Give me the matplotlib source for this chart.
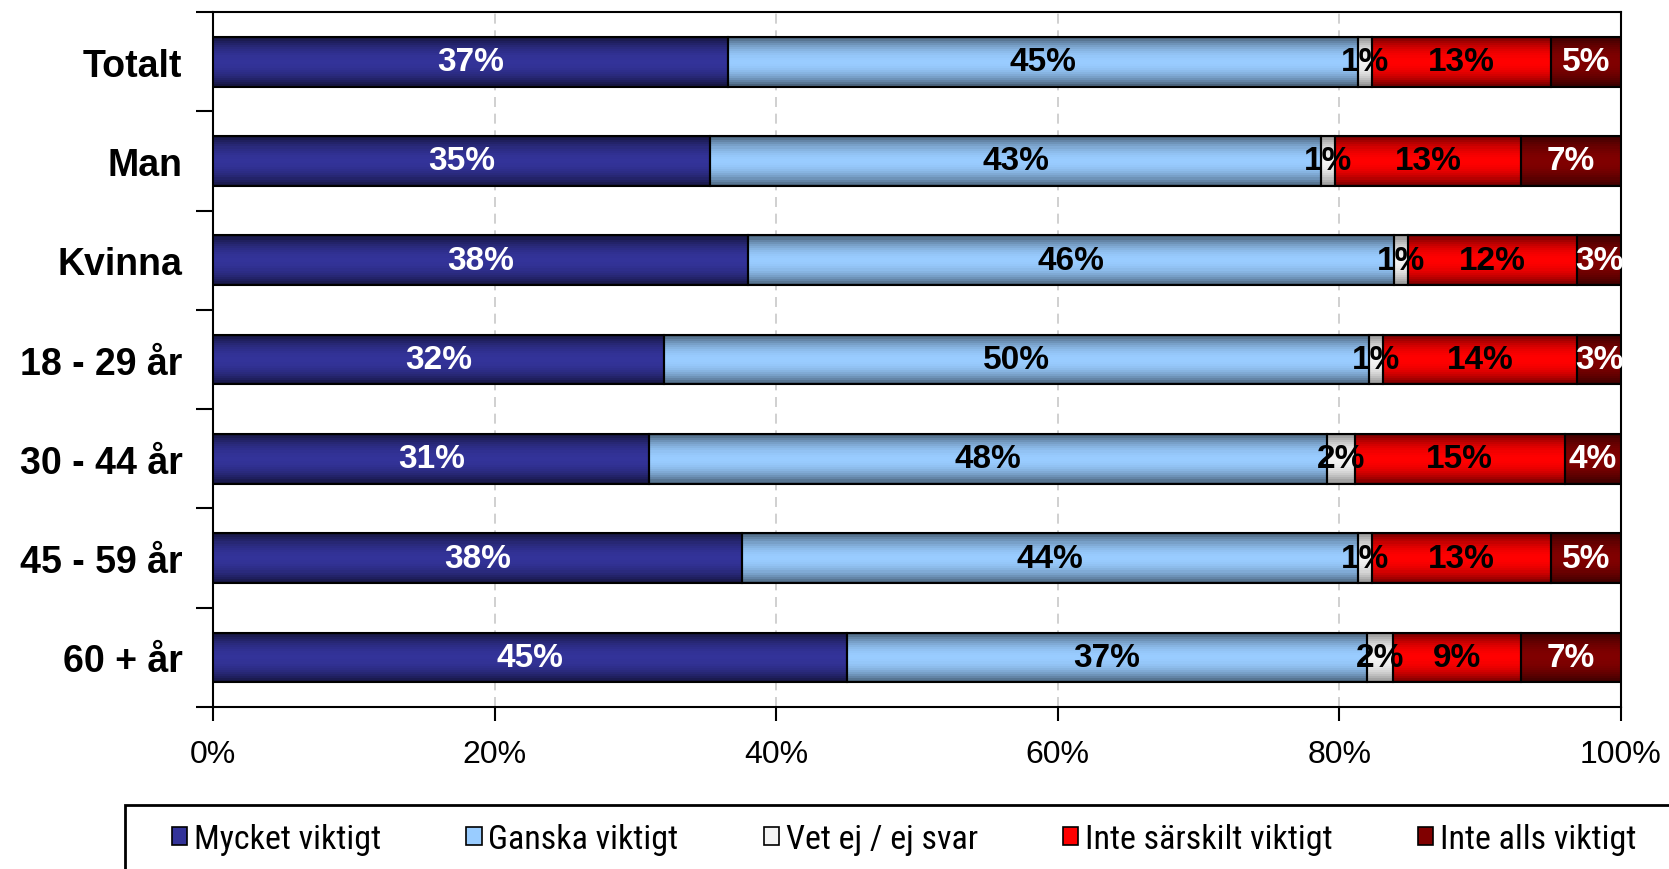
import numpy as np
import matplotlib
matplotlib.use('Agg')
from matplotlib import pyplot as plt
from matplotlib.patches import Patch, Rectangle
from matplotlib.colors import to_rgb

# data (percent)
groups = ['Totalt', 'Man', 'Kvinna', '18 - 29 år', '30 - 44 år', '45 - 59 år', '60 + år']
series = ['Mycket viktigt', 'Ganska viktigt', 'Vet ej / ej svar',
          'Inte särskilt viktigt', 'Inte alls viktigt']
mycket = [36.6, 35.3, 38.0, 32.0, 31.0, 37.6, 45.0]
ganska = [44.7, 43.4, 45.9, 50.1, 48.1, 43.7, 37.0]
vetej = [1.0, 1.0, 1.0, 1.0, 2.0, 1.0, 1.8]
inte_sarskilt = [12.7, 13.2, 12.0, 13.8, 14.9, 12.7, 9.1]
inte_alls = [5.0, 7.1, 3.1, 3.1, 4.0, 5.0, 7.1]
labels = [
    ['37%', '35%', '38%', '32%', '31%', '38%', '45%'],
    ['45%', '43%', '46%', '50%', '48%', '44%', '37%'],
    ['1%', '1%', '1%', '1%', '2%', '1%', '2%'],
    ['13%', '13%', '12%', '14%', '15%', '13%', '9%'],
    ['5%', '7%', '3%', '3%', '4%', '5%', '7%'],
]

colors = ['#333399', '#99CCFF', '#F4F4F4', '#FF0000', '#800000']
edge_factor = [0.35, 0.42, 0.55, 0.4, 0.4]
text_colors = ['white', 'black', 'black', 'black', 'white']

ARIAL = ['Liberation Sans', 'DejaVu Sans']
plt.rcParams['font.family'] = ARIAL

fig = plt.figure(figsize=(16.69, 8.70), dpi=100)
ax = fig.add_axes([0.1276, 0.1862, 0.9712 - 0.1276, 0.985 - 0.1862])

vals = np.array([mycket, ganska, vetej, inte_sarskilt, inte_alls])
y = np.arange(len(groups))
left = np.zeros(len(groups))
bar_h = 0.5
n_strips = 24


def shade(base, k, t):
    # dark at top/bottom edge, full colour in the middle
    f = k + (1 - k) * np.sin(np.pi * t) ** 0.8
    return tuple(float(c) for c in np.clip(f * np.array(to_rgb(base)), 0, 1))


for i in range(len(series)):
    # vertical gradient built from thin horizontal slices of each bar
    for s in range(n_strips):
        t = (s + 0.5) / n_strips
        yc = y - bar_h / 2 + t * bar_h
        ax.barh(yc, vals[i], left=left, height=bar_h / n_strips * 1.05,
                facecolor=shade(colors[i], edge_factor[i], t), edgecolor='none',
                linewidth=0, zorder=3)
    ax.barh(y, vals[i], left=left, height=bar_h, fill=False,
            edgecolor='black', linewidth=1.5, zorder=4)
    for j in range(len(groups)):
        ax.text(left[j] + vals[i][j] / 2, y[j], labels[i][j], ha='center', va='center',
                fontsize=24, fontweight='bold', color=text_colors[i], family=ARIAL, zorder=5)
    left = left + vals[i]

ax.set_xlim(0, 100)
ax.set_ylim(len(groups) - 0.5, -0.5)

ax.set_xticks(np.arange(0, 101, 20))
ax.set_xticklabels(['%d%%' % v for v in range(0, 101, 20)], fontsize=23, family=ARIAL)
ax.set_yticks(y)
ax.set_yticklabels(groups, fontsize=27, fontweight='bold', family=ARIAL)
ax.set_yticks(np.arange(-0.5, len(groups), 1), minor=True)
ax.tick_params(axis='y', which='major', length=0, pad=22)
ax.tick_params(axis='y', which='minor', length=12, width=1.5, direction='out')
ax.tick_params(axis='x', length=10, width=1.5, direction='out', pad=13)

ax.grid(axis='x', color='#c8c8c8', linestyle=(0, (6, 4)), linewidth=1.2, zorder=0)
for sp in ax.spines.values():
    sp.set_linewidth(1.5)
    sp.set_color('black')

# legend box runs off the right and bottom edge like in the original
fig.add_artist(Rectangle((125 / 1669, -0.1), 1.0, 0.1 + 1 - 806 / 870, transform=fig.transFigure,
                         fill=False, edgecolor='black', linewidth=2, clip_on=False))
handles = [Patch(facecolor=colors[i], edgecolor='black', linewidth=1.2) for i in range(len(series))]
leg = fig.legend(handles, series, loc='center left', bbox_to_anchor=(172 / 1669, 1 - 840 / 870),
                 ncol=5, frameon=False,
                 prop={'family': ['Roboto Condensed', 'Liberation Sans'], 'size': 24.5},
                 handlelength=0.45, handleheight=0.45, handletextpad=0.2,
                 columnspacing=2.5, borderpad=0, borderaxespad=0)

fig.savefig('out.png', dpi=100)
